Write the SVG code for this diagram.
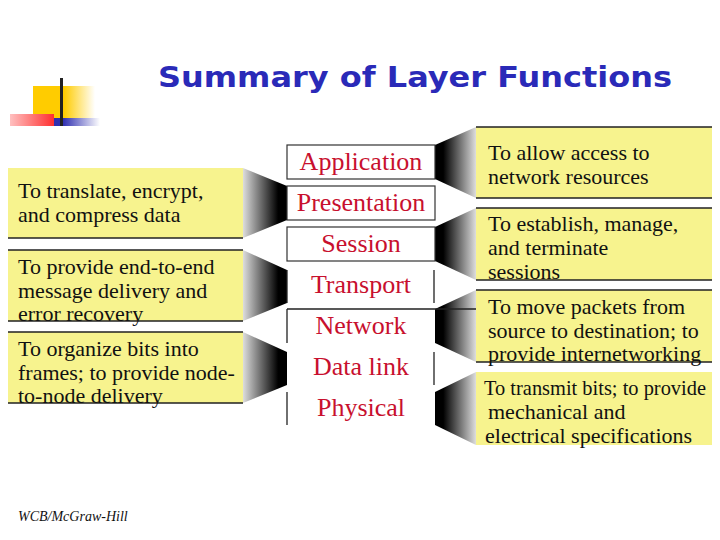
<svg xmlns="http://www.w3.org/2000/svg" width="720" height="540" viewBox="0 0 720 540">
<style>
.t{font-family:"Liberation Serif",serif;font-size:22px;fill:#111}
.l{font-family:"Liberation Serif",serif;font-size:26px;fill:#c8102e;text-anchor:middle}
.y{fill:#f7f38e}
.ln{stroke:#222;stroke-width:1.3;fill:none}
.bx{stroke:#333;stroke-width:1.2;fill:#fff}
</style>
<defs>
<linearGradient id="gl" x1="0" x2="1"><stop offset="0" stop-color="#ddd"/><stop offset="0.8" stop-color="#000"/></linearGradient>
<linearGradient id="gr" x1="1" x2="0"><stop offset="0" stop-color="#ddd"/><stop offset="0.8" stop-color="#000"/></linearGradient>
<linearGradient id="gy" x1="0" x2="1"><stop offset="0.5" stop-color="#ffcc00"/><stop offset="1" stop-color="#fff"/></linearGradient>
<linearGradient id="gb" x1="0" x2="1"><stop offset="0.2" stop-color="#3030b0"/><stop offset="1" stop-color="#fff"/></linearGradient>
<linearGradient id="gp" x1="0" x2="1"><stop offset="0" stop-color="#ffc0c0"/><stop offset="1" stop-color="#ff3030"/></linearGradient>
</defs>
<g id="logo">
<rect x="33" y="86" width="62" height="33" fill="url(#gy)"/>
<rect x="54" y="118" width="46" height="8" fill="url(#gb)"/>
<rect x="10" y="114" width="44" height="12" fill="url(#gp)"/>
<rect x="60" y="78" width="3" height="48" fill="#222"/>
</g>
<text x="415" y="87" text-anchor="middle" font-family="Verdana,'DejaVu Sans',sans-serif" font-weight="bold" font-size="29" fill="#2a2ab8" textLength="514" lengthAdjust="spacingAndGlyphs">Summary of Layer Functions</text>
<g id="connectors">
<polygon points="243,168 287,186 287,220 243,238" fill="url(#gl)"/>
<polygon points="243,250 287,270 287,303 243,321" fill="url(#gl)"/>
<polygon points="243,332 287,352 287,385 243,403" fill="url(#gl)"/>
<polygon points="435,145 476,127 476,198 435,179" fill="url(#gr)"/>
<polygon points="435,227 476,208 476,280 435,261" fill="url(#gr)"/>
<polygon points="435,309 476,290 476,362 435,343" fill="url(#gr)"/>
<polygon points="435,392 476,372 476,445 435,425" fill="url(#gr)"/>
</g>
<g id="left1"><rect class="y" x="8" y="168" width="235" height="70"/><path class="ln" d="M8,238H243"/>
<text class="t" x="18" y="198">To translate, encrypt,</text><text class="t" x="18" y="222">and compress data</text></g>
<g id="left2"><rect class="y" x="8" y="250" width="235" height="71"/><path class="ln" d="M8,250H243M8,321H243"/>
<text class="t" x="18" y="274">To provide end-to-end</text><text class="t" x="18" y="298">message delivery and</text><text class="t" x="18" y="321">error recovery</text></g>
<g id="left3"><rect class="y" x="8" y="332" width="235" height="71"/><path class="ln" d="M8,332H243M8,403H243"/>
<text class="t" x="18" y="356">To organize bits into</text><text class="t" x="18" y="380">frames; to provide node-</text><text class="t" x="18" y="403">to-node delivery</text></g>
<g id="right1"><rect class="y" x="476" y="127" width="236" height="71"/><path class="ln" d="M476,127H712M476,198H712"/>
<text class="t" x="488" y="160">To allow access to</text><text class="t" x="488" y="184">network resources</text></g>
<g id="right2"><rect class="y" x="476" y="208" width="236" height="72"/><path class="ln" d="M476,208H712M476,280H712"/>
<text class="t" x="488" y="231">To establish, manage,</text><text class="t" x="488" y="255">and terminate</text><text class="t" x="488" y="279">sessions</text></g>
<g id="right3"><rect class="y" x="476" y="290" width="236" height="72"/><path class="ln" d="M476,290H712M476,362H712"/>
<text class="t" x="488" y="314">To move packets from</text><text class="t" x="488" y="338">source to destination; to</text><text class="t" x="488" y="361">provide internetworking</text></g>
<g id="right4"><rect class="y" x="476" y="372" width="236" height="73"/>
<text class="t" x="484" y="395" textLength="222" lengthAdjust="spacingAndGlyphs">To transmit bits; to provide</text><text class="t" x="488" y="419">mechanical and</text><text class="t" x="485" y="443">electrical specifications</text></g>
<g id="application"><rect class="bx" x="287" y="145" width="148" height="34"/><text class="l" x="361" y="170">Application</text></g>
<g id="presentation"><rect class="bx" x="287" y="186" width="148" height="34"/><text class="l" x="361" y="211">Presentation</text></g>
<g id="session"><rect class="bx" x="287" y="227" width="148" height="34"/><text class="l" x="361" y="252">Session</text></g>
<g id="transport"><path class="ln" d="M287,270V303M434,270V303"/><text class="l" x="361" y="293">Transport</text></g>
<g id="network"><path class="ln" d="M287,309H476M287,309V343"/><text class="l" x="361" y="334">Network</text></g>
<g id="datalink"><path class="ln" d="M434,352V385"/><text class="l" x="361" y="375">Data link</text></g>
<g id="physical"><path class="ln" d="M287,392V425"/><text class="l" x="361" y="416">Physical</text></g>
<text x="18" y="521" font-family="'Liberation Serif',serif" font-style="italic" font-size="14" fill="#111">WCB/McGraw-Hill</text>
</svg>
